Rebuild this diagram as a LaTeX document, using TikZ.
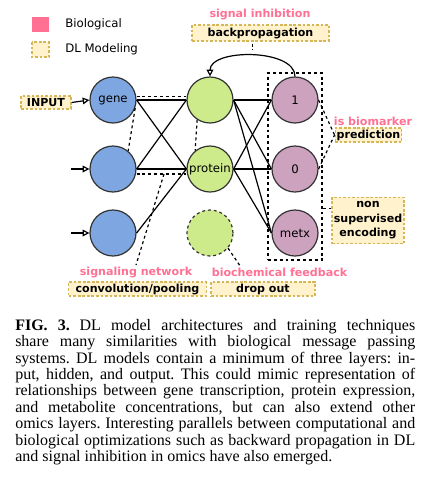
\documentclass[tikz,border=0pt]{standalone}
\usepackage{fontspec}
\setmainfont{Liberation Serif}
\newfontfamily\diagfont{DejaVu Sans}
\usetikzlibrary{arrows.meta,calc,fit}

\definecolor{biopink}{HTML}{FF7093}
\definecolor{dlfill}{HTML}{FFF2CC}
\definecolor{dlline}{HTML}{D6B656}
\definecolor{geneblue}{HTML}{7EA6E0}
\definecolor{protgreen}{HTML}{CDEB8B}
\definecolor{metpurple}{HTML}{CDA2BE}
\definecolor{edge}{HTML}{333333}

\begin{document}
\begin{tikzpicture}[x=0.75pt, y=-0.75pt,
        neuron/.style={circle, draw=edge, line width=0.9pt, minimum size=34.5pt, inner sep=0pt,
            font=\diagfont\fontsize{8.8}{10}\selectfont},
        dlbox/.style={draw=dlline, fill=dlfill, dash pattern=on 2pt off 1.4pt, line width=0.9pt,
            inner sep=0pt, font=\diagfont\bfseries\fontsize{8.3}{10.9}\selectfont},
        biolabel/.style={text=biopink, inner sep=1pt, font=\diagfont\bfseries\fontsize{8.3}{10}\selectfont},
        legendtext/.style={anchor=west, inner sep=0pt, font=\diagfont\fontsize{8.8}{10}\selectfont},
        link/.style={draw=black, line width=0.9pt},
        guide/.style={draw=black, line width=0.9pt, dash pattern=on 2.2pt off 2.2pt},
        feed/.style={draw=black, line width=0.9pt, -{Triangle[open, length=5pt, width=5pt]}}]
    \useasboundingbox (0,0) rectangle (431,480);

    % Legend
    \fill[biopink] (32,17) rectangle (49,32);
    \draw[dlbox] (32,42) rectangle (49,57);
    \node[legendtext] (legbio) at (65,24) {Biological};
    \node[legendtext] (legdl) at (65,49) {DL Modeling};

    % Layers
    \node[neuron, fill=geneblue] (gene) at (113,100) {gene};
    \node[neuron, fill=geneblue] (gene2) at (113,169) {};
    \node[neuron, fill=geneblue] (gene3) at (113,233) {};
    \node[neuron, fill=protgreen] (prot1) at (210,100) {};
    \node[neuron, fill=protgreen] (prot) at (210,169) {protein};
    \node[neuron, fill=protgreen, dash pattern=on 2.2pt off 2.2pt] (drop) at (210,233) {};
    \node[neuron, fill=metpurple] (met1) at (295,100) {1};
    \node[neuron, fill=metpurple] (met0) at (295,169) {0};
    \node[neuron, fill=metpurple] (metx) at (295,233) {metx};
    \node[guide, fit=(met1)(metx), inner sep=2.6pt] (outbox) {};

    % Labels
    \node[biolabel] (inhibit) at (260,14) {signal inhibition};
    \node[dlbox, minimum width=102.75pt, minimum height=12pt] (backprop) at (260.5,33) {backpropagation};
    \node[dlbox, minimum width=37.5pt, minimum height=9.75pt] (input) at (46,102.5) {INPUT};
    \node[biolabel] (biomark) at (373,121) {is biomarker};
    \node[dlbox, minimum width=50pt, minimum height=10.5pt] (predict) at (368.5,135) {prediction};
    \node[dlbox, minimum width=54pt, minimum height=35pt, align=center] (encode) at (368,220.5) {non\\supervised\\encoding};
    \node[biolabel] (signal) at (136,272) {signaling network};
    \node[dlbox, minimum width=103pt, minimum height=10.5pt] (conv) at (137.5,289) {convolution/pooling};
    \node[biolabel] (feedback) at (279.5,272) {biochemical feedback};
    \node[dlbox, minimum width=78pt, minimum height=10.5pt] (dropout) at (263,289) {drop out};

    % Inputs
    \coordinate (in2) at (71,169);
    \coordinate (in3) at (71,233);
    \draw[feed] (input.east) -- (gene.west);
    \draw[feed] (in2) -- (gene2.west);
    \draw[feed] (in3) -- (gene3.west);

    % Connections
    \foreach \a/\b in {gene/prot1, gene/prot, gene2/prot1, gene2/prot, gene3/prot}
        \draw[link] (\a.east) -- (\b.west);
    \foreach \a in {prot1, prot}
        \foreach \b in {met1, met0, metx}
            \draw[link] (\a.east) -- (\b.west);

    % Pooling window
    \draw[guide] ($(gene.east)+(0,-3.5)$) -- ($(prot1.west)+(0,-3.5)$);
    \draw[guide] (gene.-20) -- (gene2.50);
    \draw[guide] (prot1.-123) -- (prot.129);
    \draw[guide] ($(gene2.east)+(0,5)$) -- ($(prot.west)+(0,5)$) coordinate[pos=0.55] (poolmid);
    \draw[guide] (poolmid) -- (signal.north);
    \draw[guide] (drop.-40) -- ($(feedback.north west)+(30,0)$);

    % Backpropagation
    \draw[feed] (met1.north) .. controls ($(met1.north)+(0,-28)$) and ($(prot1.north)+(0,-28)$) .. (prot1.north)
        coordinate[pos=0.5] (bpmid);
    \draw[guide] ($(bpmid |- backprop.south)+(0,2)$) -- ($(bpmid)+(0,-5)$);

    % Outputs
    \draw[guide] (met1.east) -- (predict.west);
    \draw[guide] (met0.east) -- (predict.west);
    \coordinate (encin) at ($(encode.west)+(0,-12)$);
    \draw[guide] (encin -| outbox.east) -- (encin);

    % Caption
    \node[anchor=north west, text width=300pt, align=justify, inner sep=0pt,
        font=\fontsize{12}{12.3}\selectfont\frenchspacing] (caption) at (15,319)
        {\textbf{FIG. 3.}\hspace{0.6em}DL model architectures and training techniques\linebreak
        share many similarities with biological message passing\linebreak
        systems. DL models contain a minimum of three layers: in-\linebreak
        put, hidden, and output. This could mimic representation of\linebreak
        relationships between gene transcription, protein expression,\linebreak
        and metabolite concentrations, but can also extend other\linebreak
        omics layers. Interesting parallels between computational and\linebreak
        biological optimizations such as backward propagation in DL\linebreak
        and signal inhibition in omics have also emerged.};
\end{tikzpicture}
\end{document}
